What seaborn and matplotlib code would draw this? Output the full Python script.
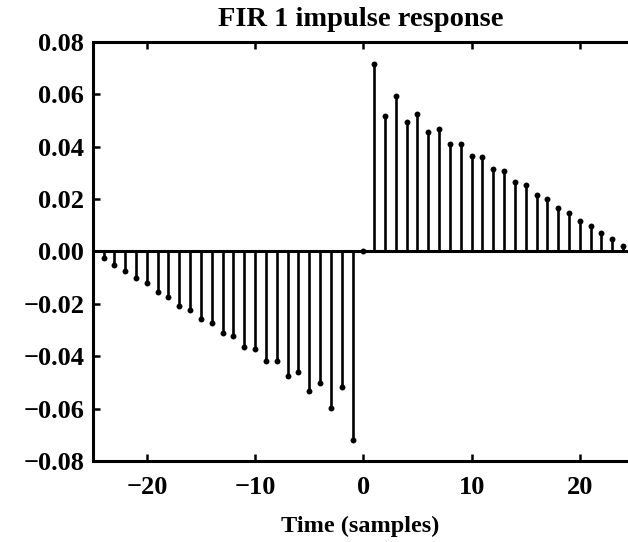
import numpy as np
import pandas as pd
import matplotlib
matplotlib.use("Agg")
import matplotlib.pyplot as plt
import seaborn as sns

# Data
time_samples = list(range(-24, 25))
neg_values = [-0.0024, -0.0051, -0.0075, -0.0102, -0.0122, -0.0156, -0.0175, -0.0207,
              -0.0223, -0.0260, -0.0273, -0.0313, -0.0324, -0.0366, -0.0371, -0.0417,
              -0.0418, -0.0475, -0.0462, -0.0531, -0.0501, -0.0598, -0.0519, -0.0720]
center_value = [0.0]
pos_values = [0.0715, 0.0516, 0.0591, 0.0494, 0.0524, 0.0457, 0.0467, 0.0410,
              0.0411, 0.0364, 0.0359, 0.0315, 0.0305, 0.0265, 0.0253, 0.0214,
              0.0198, 0.0166, 0.0148, 0.0117, 0.0097, 0.0069, 0.0047, 0.0020]
impulse = neg_values + center_value + pos_values

title_text = "FIR 1 impulse response"
xlabel_text = "Time (samples)"
xticks = [-20, -10, 0, 10, 20]
yticks = [-0.08, -0.06, -0.04, -0.02, 0.00, 0.02, 0.04, 0.06, 0.08]

df = pd.DataFrame({"t": time_samples, "h": impulse})

sns.set_theme(style="ticks")
plt.rcParams["font.family"] = ["Liberation Serif", "DejaVu Serif"]
plt.rcParams["font.weight"] = "bold"
plt.rcParams["axes.unicode_minus"] = True
for key in ["text.color", "axes.labelcolor", "xtick.color", "ytick.color",
            "axes.edgecolor", "xtick.labelcolor", "ytick.labelcolor"]:
    plt.rcParams[key] = "black"

W, H = 628, 542
fig = plt.figure(figsize=(W / 100, H / 100), dpi=100)
left, right, top, bottom = 92.7, 628.0, 41.7, 461.0
ax = fig.add_axes([left / W, 1 - bottom / H, (right - left) / W, (bottom - top) / H])

ax.axhline(0, color="black", lw=2.2, zorder=2)
ax.vlines(df["t"], 0, df["h"], color="black", lw=1.9, zorder=3)
sns.scatterplot(data=df, x="t", y="h", ax=ax, color="black", s=18, edgecolor="black",
                linewidth=0, zorder=4, legend=False)

ax.set_xlim(-25, 24.45)
ax.set_ylim(-0.08, 0.08)
ax.set_xticks(xticks)
ax.set_yticks(yticks)
ax.set_yticklabels([f"{v:.2f}".replace("-", "\u2212") for v in yticks])
ax.set_xticklabels([str(v).replace("-", "\u2212") for v in xticks])

for s in ["left", "top", "bottom"]:
    ax.spines[s].set_linewidth(2.2)
    ax.spines[s].set_color("black")
ax.spines["right"].set_visible(False)

ax.tick_params(axis="both", direction="in", length=5, width=1.8, color="black",
               labelcolor="black", labelsize=19, top=True, right=False)
ax.tick_params(axis="x", pad=11)
ax.tick_params(axis="y", pad=6)
for lab in ax.get_xticklabels() + ax.get_yticklabels():
    lab.set_fontweight("bold")

ax.set_xlabel(xlabel_text, fontsize=17.5, fontweight="bold", labelpad=12, color="black")
ax.set_ylabel("")
ax.set_title(title_text, fontsize=20.5, fontweight="bold", pad=11, color="black")

fig.savefig("out.png", dpi=100)
